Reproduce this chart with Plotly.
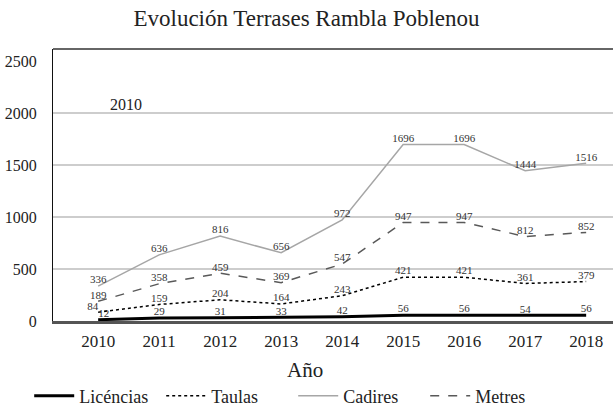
import plotly.graph_objects as go

years = ["2010", "2011", "2012", "2013", "2014", "2015", "2016", "2017", "2018"]
licencias = [12, 29, 31, 33, 42, 56, 56, 54, 56]
taulas = [84, 159, 204, 164, 243, 421, 421, 361, 379]
cadires = [336, 636, 816, 656, 972, 1696, 1696, 1444, 1516]
metres = [189, 358, 459, 369, 547, 947, 947, 812, 852]
y_ticks = [0, 500, 1000, 1500, 2000, 2500]

SERIF = "Liberation Serif, DejaVu Serif, serif"
lbl_font = dict(family=SERIF, size=11, color="#333")

fig = go.Figure()
series = [
    ("Licéncias", licencias, dict(color="#000000", width=3, dash="solid")),
    ("Taulas", taulas, dict(color="#000000", width=1.5, dash="dot")),
    ("Cadires", cadires, dict(color="#a6a6a6", width=1.5, dash="solid")),
    ("Metres", metres, dict(color="#595959", width=1.5, dash="dash")),
]
for name, vals, line in series:
    pos = ["top center"] * len(vals)
    if name == "Licéncias":
        pos[0] = "top right"
    if name == "Taulas":
        pos[0] = "top left"
    fig.add_trace(go.Scatter(
        x=years, y=vals, name=name, mode="lines+text",
        line=line, text=[str(v) for v in vals], textposition=pos,
        textfont=lbl_font, cliponaxis=False,
    ))

shapes = []
for v in y_ticks[1:-1]:
    shapes.append(dict(type="line", xref="paper", yref="y", x0=0, x1=1, y0=v, y1=v,
                       line=dict(color="#bdbdbd", width=1.5), layer="below"))
shapes.append(dict(type="line", xref="paper", yref="paper", x0=0, x1=1, y0=1, y1=1,
                   line=dict(color="#333333", width=1.5)))

fig.update_layout(
    width=613, height=409,
    margin=dict(l=53, r=0, t=49, b=88, autoexpand=False),
    paper_bgcolor="white", plot_bgcolor="white",
    title=dict(text="Evolución Terrases Rambla Poblenou", x=0.5, xanchor="center",
               y=0.955, yanchor="middle",
               font=dict(family=SERIF, size=23, color="#222")),
    xaxis=dict(type="category", range=[-0.74, 8.44], showgrid=False, automargin=False,
               showline=True, linecolor="#555", linewidth=3,
               ticks="", ticklabelstandoff=3,
               tickfont=dict(family=SERIF, size=17, color="#222")),
    yaxis=dict(range=[0, 2615], tickvals=y_ticks, showgrid=False, zeroline=False,
               automargin=False, showline=True, linecolor="#111", linewidth=1,
               ticks="", ticklabelstandoff=12,
               tickfont=dict(family=SERIF, size=16, color="#222")),
    shapes=shapes,
    showlegend=True,
    legend=dict(orientation="h", x=-0.0425, xanchor="left", y=-0.276, yanchor="middle",
                font=dict(family=SERIF, size=18, color="#222"), itemwidth=40,
                entrywidth=77, tracegroupgap=0),
    annotations=[
        dict(text="2010", xref="paper", yref="paper", x=0.098, y=0.835,
             showarrow=False, font=dict(family=SERIF, size=16, color="#222")),
        dict(text="Año", xref="paper", yref="paper", x=0.45, y=-0.18,
             xanchor="center", yanchor="middle",
             showarrow=False, font=dict(family=SERIF, size=21, color="#222")),
    ],
)

fig.write_html("out.html", config={"displayModeBar": False},
               post_script="document.body.style.margin='0px';document.body.style.overflow='hidden';")
